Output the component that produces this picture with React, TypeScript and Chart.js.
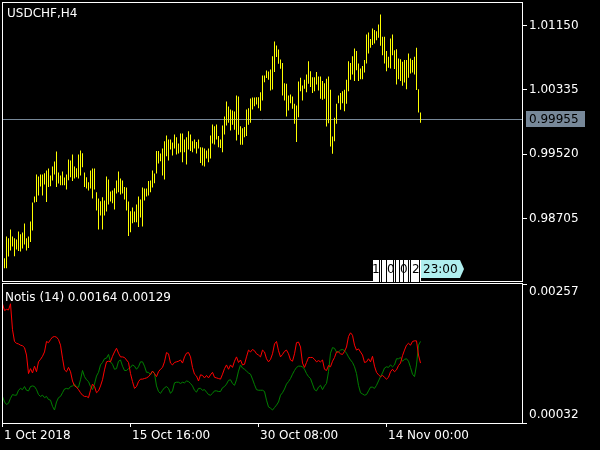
import React, { useEffect, useRef } from 'react';
import { Chart, registerables } from 'chart.js';

Chart.register(...registerables);

const FONT_FAMILY = '"DejaVu Sans", "Liberation Sans", sans-serif';

// ---------- data ----------
const symbolTitle = 'USDCHF,H4';
const indicatorName = 'Notis (14)';
const timerLabel = '23:00';
const timerDigits = ['1', '0', '0', '2'];

// H4 bars, index 0 = 1 Oct 2018 00:00
const barHigh = [
  0.98190, 0.98202, 0.98477, 0.98455, 0.98566, 0.98477, 0.98455, 0.98439, 0.98540, 0.98506,
  0.98528, 0.98642, 0.98455, 0.98477, 0.98667, 0.98908, 0.98984, 0.99262, 0.99237, 0.99262,
  0.99262, 0.99279, 0.99313, 0.99338, 0.99250, 0.99364, 0.99427, 0.99554, 0.99288, 0.99250,
  0.99300, 0.99224, 0.99262, 0.99453, 0.99440, 0.99516, 0.99364, 0.99342, 0.99516, 0.99567,
  0.99532, 0.99288, 0.99228, 0.99165, 0.99313, 0.99338, 0.99338, 0.99038, 0.98958, 0.98924,
  0.98975, 0.98933, 0.99237, 0.99199, 0.99047, 0.99060, 0.99089, 0.99186, 0.99300, 0.99212,
  0.99186, 0.99102, 0.99098, 0.98920, 0.98797, 0.98844, 0.98794, 0.98882, 0.98984, 0.98946,
  0.99098, 0.99085, 0.99085, 0.99178, 0.99186, 0.99313, 0.99275, 0.99558, 0.99558, 0.99529,
  0.99592, 0.99684, 0.99757, 0.99706, 0.99706, 0.99668, 0.99769, 0.99735, 0.99655, 0.99782,
  0.99782, 0.99706, 0.99735, 0.99811, 0.99769, 0.99684, 0.99706, 0.99672, 0.99706, 0.99608,
  0.99605, 0.99592, 0.99567, 0.99592, 0.99757, 0.99896, 0.99874, 0.99896, 0.99748, 0.99706,
  0.99883, 0.99997, 1.00187, 1.00124, 1.00086, 1.00073, 1.00061, 1.00263, 1.00251, 0.99874,
  0.99849, 0.99862, 1.00086, 1.00102, 1.00225, 1.00238, 1.00238, 1.00242, 1.00242, 1.00305,
  1.00517, 1.00517, 1.00580, 1.00567, 1.00593, 1.00761, 1.00948, 1.00897, 1.00846, 1.00720,
  1.00673, 1.00419, 1.00412, 1.00263, 1.00276, 1.00251, 1.00158, 1.00137, 1.00441, 1.00488,
  1.00390, 1.00462, 1.00529, 1.00698, 1.00571, 1.00495, 1.00495, 1.00559, 1.00504, 1.00504,
  1.00445, 1.00419, 1.00475, 1.00504, 1.00336, 0.99744, 0.99981, 1.00158, 1.00263, 1.00293,
  1.00318, 1.00336, 1.00462, 1.00698, 1.00673, 1.00761, 1.00859, 1.00825, 1.00669, 1.00605,
  1.00635, 1.00711, 1.01036, 1.01062, 1.00977, 1.01112, 1.01091, 1.01078, 1.01163, 1.01290,
  1.01007, 1.01007, 1.00825, 1.00754, 1.00986, 1.01036, 1.00837, 1.00850, 1.00732, 1.00723,
  1.00690, 1.00711, 1.00711, 1.00796, 1.00732, 1.00711, 1.00754, 1.00868, 1.00343, 1.00048,
];
const barLow = [
  0.98080, 0.98075, 0.98075, 0.98223, 0.98300, 0.98350, 0.98227, 0.98312, 0.98291, 0.98287,
  0.98325, 0.98376, 0.98300, 0.98329, 0.98405, 0.98553, 0.98908, 0.98912, 0.98996, 0.99110,
  0.98996, 0.99136, 0.98912, 0.99102, 0.99114, 0.99186, 0.99262, 0.99102, 0.99148, 0.99127,
  0.99127, 0.99127, 0.99072, 0.99190, 0.99228, 0.99178, 0.99212, 0.99228, 0.99212, 0.99250,
  0.99355, 0.99102, 0.99085, 0.99060, 0.99085, 0.98958, 0.99072, 0.98806, 0.98566, 0.98743,
  0.98566, 0.98743, 0.98794, 0.98882, 0.98920, 0.98899, 0.98819, 0.99022, 0.99038, 0.99009,
  0.99022, 0.98946, 0.98806, 0.98481, 0.98531, 0.98645, 0.98658, 0.98658, 0.98595, 0.98718,
  0.98604, 0.98933, 0.98984, 0.98996, 0.99038, 0.99098, 0.99152, 0.99275, 0.99402, 0.99431,
  0.99250, 0.99199, 0.99494, 0.99440, 0.99579, 0.99503, 0.99592, 0.99516, 0.99529, 0.99545,
  0.99418, 0.99545, 0.99389, 0.99579, 0.99558, 0.99545, 0.99592, 0.99529, 0.99592, 0.99406,
  0.99376, 0.99364, 0.99465, 0.99418, 0.99465, 0.99655, 0.99643, 0.99706, 0.99608, 0.99596,
  0.99545, 0.99769, 0.99883, 0.99918, 0.99820, 0.99892, 0.99829, 0.99693, 0.99765, 0.99639,
  0.99639, 0.99735, 0.99748, 0.99892, 0.99918, 1.00086, 1.00128, 1.00149, 1.00102, 1.00070,
  1.00200, 1.00432, 1.00483, 1.00462, 1.00327, 1.00339, 1.00559, 1.00749, 1.00665, 1.00602,
  1.00263, 1.00200, 0.99997, 1.00073, 1.00166, 1.00095, 0.99905, 0.99672, 0.99988, 1.00318,
  1.00200, 1.00348, 1.00305, 1.00412, 1.00369, 1.00293, 1.00318, 1.00403, 1.00327, 1.00222,
  1.00209, 1.00222, 0.99871, 0.99912, 0.99617, 0.99525, 0.99684, 0.99905, 1.00166, 1.00082,
  1.00166, 1.00064, 1.00158, 1.00318, 1.00462, 1.00529, 1.00445, 1.00584, 1.00445, 1.00470,
  1.00470, 1.00555, 1.00669, 1.00796, 1.00868, 1.00901, 1.00922, 1.00964, 1.00994, 1.00893,
  1.00774, 1.00669, 1.00571, 1.00614, 1.00605, 1.00774, 1.00597, 1.00403, 1.00470, 1.00445,
  1.00386, 1.00428, 1.00343, 1.00488, 1.00542, 1.00555, 1.00529, 1.00331, 1.00048, 0.99918,
];
const lastPrice = 0.99955;
const priceTicks = [0.98705, 0.9952, 1.00335, 1.0115];
const priceAxisMin = 0.97906;
const priceAxisMax = 1.01441;

const notisRed = [
  0.00225, 0.00214, 0.00216, 0.00215, 0.00225, 0.00183, 0.00164, 0.00161, 0.00160, 0.00158,
  0.00157, 0.00154, 0.00142, 0.00112, 0.00120, 0.00113, 0.00124, 0.00115, 0.00131, 0.00135,
  0.00140, 0.00147, 0.00164, 0.00162, 0.00167, 0.00171, 0.00172, 0.00171, 0.00167, 0.00158,
  0.00137, 0.00118, 0.00115, 0.00122, 0.00115, 0.00100, 0.00092, 0.00090, 0.00086, 0.00081,
  0.00077, 0.00075, 0.00075, 0.00073, 0.00085, 0.00095, 0.00091, 0.00081, 0.00084, 0.00092,
  0.00102, 0.00118, 0.00131, 0.00132, 0.00131, 0.00140, 0.00147, 0.00153, 0.00145, 0.00139,
  0.00139, 0.00138, 0.00134, 0.00130, 0.00112, 0.00099, 0.00088, 0.00091, 0.00099, 0.00103,
  0.00103, 0.00104, 0.00105, 0.00107, 0.00111, 0.00116, 0.00112, 0.00107, 0.00115, 0.00119,
  0.00122, 0.00131, 0.00146, 0.00144, 0.00129, 0.00126, 0.00130, 0.00131, 0.00132, 0.00134,
  0.00129, 0.00139, 0.00145, 0.00146, 0.00139, 0.00122, 0.00111, 0.00108, 0.00100, 0.00110,
  0.00109, 0.00105, 0.00109, 0.00105, 0.00110, 0.00114, 0.00106, 0.00105, 0.00104, 0.00103,
  0.00111, 0.00120, 0.00126, 0.00119, 0.00126, 0.00122, 0.00132, 0.00139, 0.00130, 0.00134,
  0.00126, 0.00127, 0.00139, 0.00150, 0.00147, 0.00151, 0.00149, 0.00144, 0.00142, 0.00139,
  0.00150, 0.00147, 0.00136, 0.00131, 0.00135, 0.00144, 0.00160, 0.00164, 0.00149, 0.00139,
  0.00143, 0.00148, 0.00150, 0.00144, 0.00134, 0.00132, 0.00144, 0.00162, 0.00163, 0.00155,
  0.00129, 0.00122, 0.00130, 0.00138, 0.00138, 0.00138, 0.00135, 0.00131, 0.00133, 0.00131,
  0.00134, 0.00119, 0.00117, 0.00125, 0.00123, 0.00132, 0.00138, 0.00147, 0.00147, 0.00144,
  0.00143, 0.00148, 0.00155, 0.00172, 0.00178, 0.00174, 0.00158, 0.00150, 0.00152, 0.00147,
  0.00142, 0.00130, 0.00131, 0.00136, 0.00131, 0.00140, 0.00124, 0.00114, 0.00110, 0.00107,
  0.00109, 0.00106, 0.00103, 0.00106, 0.00115, 0.00119, 0.00115, 0.00118, 0.00125, 0.00129,
  0.00141, 0.00150, 0.00158, 0.00161, 0.00158, 0.00164, 0.00165, 0.00165, 0.00142, 0.00129,
];
const notisGreen = [
  0.00075, 0.00066, 0.00062, 0.00064, 0.00072, 0.00078, 0.00077, 0.00077, 0.00085, 0.00088,
  0.00086, 0.00091, 0.00085, 0.00084, 0.00091, 0.00092, 0.00091, 0.00086, 0.00078, 0.00075,
  0.00077, 0.00073, 0.00075, 0.00070, 0.00069, 0.00059, 0.00053, 0.00066, 0.00073, 0.00075,
  0.00081, 0.00087, 0.00088, 0.00087, 0.00091, 0.00092, 0.00095, 0.00090, 0.00090, 0.00102,
  0.00117, 0.00107, 0.00102, 0.00099, 0.00091, 0.00086, 0.00095, 0.00108, 0.00114, 0.00126,
  0.00130, 0.00136, 0.00137, 0.00143, 0.00131, 0.00127, 0.00119, 0.00120, 0.00132, 0.00134,
  0.00124, 0.00117, 0.00117, 0.00120, 0.00122, 0.00126, 0.00124, 0.00119, 0.00123, 0.00131,
  0.00131, 0.00124, 0.00114, 0.00114, 0.00110, 0.00116, 0.00112, 0.00092, 0.00083, 0.00080,
  0.00085, 0.00089, 0.00091, 0.00088, 0.00080, 0.00084, 0.00097, 0.00098, 0.00098, 0.00096,
  0.00098, 0.00097, 0.00100, 0.00099, 0.00096, 0.00092, 0.00085, 0.00082, 0.00088, 0.00088,
  0.00085, 0.00086, 0.00082, 0.00078, 0.00077, 0.00080, 0.00084, 0.00084, 0.00083, 0.00083,
  0.00089, 0.00091, 0.00095, 0.00101, 0.00102, 0.00096, 0.00093, 0.00102, 0.00116, 0.00126,
  0.00121, 0.00119, 0.00116, 0.00113, 0.00111, 0.00103, 0.00094, 0.00086, 0.00085, 0.00085,
  0.00085, 0.00083, 0.00069, 0.00058, 0.00056, 0.00053, 0.00057, 0.00061, 0.00066, 0.00077,
  0.00081, 0.00087, 0.00095, 0.00099, 0.00104, 0.00111, 0.00117, 0.00122, 0.00124, 0.00124,
  0.00123, 0.00119, 0.00112, 0.00107, 0.00104, 0.00095, 0.00086, 0.00084, 0.00090, 0.00093,
  0.00086, 0.00092, 0.00096, 0.00115, 0.00145, 0.00154, 0.00153, 0.00147, 0.00147, 0.00150,
  0.00151, 0.00149, 0.00145, 0.00139, 0.00134, 0.00130, 0.00123, 0.00112, 0.00093, 0.00081,
  0.00079, 0.00077, 0.00078, 0.00084, 0.00090, 0.00090, 0.00088, 0.00093, 0.00100, 0.00107,
  0.00113, 0.00121, 0.00123, 0.00122, 0.00126, 0.00123, 0.00126, 0.00136, 0.00136, 0.00138,
  0.00132, 0.00135, 0.00136, 0.00132, 0.00122, 0.00111, 0.00107, 0.00126, 0.00158, 0.00164,
];
const notisAxisMin = 0.00032;
const notisAxisMax = 0.00257;

const timeTickBars = [0, 64, 128, 192];
const timeTickLabels = ['1 Oct 2018', '15 Oct 16:00', '30 Oct 08:00', '14 Nov 00:00'];
const barAxisMax = 259.75;

// ---------- drawing helpers ----------
const font12 = `12px ${FONT_FAMILY}`;

const mainDecor = {
  id: 'mainDecor',
  beforeDatasetsDraw(chart: any) {
    const { ctx, chartArea: a, scales } = chart;
    const y = Math.floor(scales.y.getPixelForValue(lastPrice)) + 0.5;
    ctx.save();
    ctx.strokeStyle = '#778899';
    ctx.lineWidth = 1;
    ctx.beginPath();
    ctx.moveTo(a.left, y);
    ctx.lineTo(a.right, y);
    ctx.stroke();
    ctx.restore();
  },
  afterDraw(chart: any) {
    const { ctx, chartArea: a, scales } = chart;
    ctx.save();
    // frame
    ctx.strokeStyle = '#ffffff';
    ctx.lineWidth = 1;
    ctx.strokeRect(2.5, 2.5, a.right - 2, a.bottom - 2.5);
    // title
    ctx.font = font12;
    ctx.fillStyle = '#ffffff';
    ctx.textBaseline = 'alphabetic';
    ctx.textAlign = 'left';
    ctx.fillText(symbolTitle, 7, 17);
    // price label box
    const py = Math.floor(scales.y.getPixelForValue(lastPrice)) + 0.5;
    ctx.fillStyle = '#778899';
    ctx.fillRect(a.right + 4, py - 8.5, 59, 16);
    ctx.fillStyle = '#000000';
    ctx.textBaseline = 'middle';
    ctx.fillText(lastPrice.toFixed(5), a.right + 7, py);
    // bar timer label
    const lastIdx = barHigh.length - 1;
    const bx = Math.round(scales.x.getPixelForValue(lastIdx));
    const top = Math.round(a.bottom) - 22;
    ctx.fillStyle = '#ffffff';
    ctx.fillRect(bx - 48, top, 48, 22);
    ctx.save();
    ctx.beginPath();
    ctx.rect(bx - 48, top, 48, 22);
    ctx.clip();
    ctx.fillStyle = '#000000';
    const digitX = [-49, -34, -21, -9];
    timerDigits.forEach((d, i) => ctx.fillText(d, bx + digitX[i], top + 10));
    ctx.strokeStyle = '#000000';
    [-41.5, -39.5, -34.5, -27.5, -25.5, -21.5, -17.5, -12.5, -10.5, -1.5].forEach((dx) => {
      ctx.beginPath();
      ctx.moveTo(bx + dx, top);
      ctx.lineTo(bx + dx, top + 22);
      ctx.stroke();
    });
    ctx.restore();
    ctx.fillStyle = '#afeeee';
    ctx.beginPath();
    ctx.moveTo(bx, top);
    ctx.lineTo(bx + 39, top);
    ctx.lineTo(bx + 43, top + 9);
    ctx.lineTo(bx + 39, top + 18);
    ctx.lineTo(bx, top + 18);
    ctx.closePath();
    ctx.fill();
    ctx.fillStyle = '#000000';
    ctx.textBaseline = 'middle';
    ctx.fillText(timerLabel, bx + 2, top + 9.5);
    ctx.restore();
  },
};

const subDecor = {
  id: 'subDecor',
  afterDraw(chart: any) {
    const { ctx, chartArea: a } = chart;
    ctx.save();
    ctx.strokeStyle = '#ffffff';
    ctx.lineWidth = 1;
    ctx.strokeRect(2.5, 0.5, a.right - 2, a.bottom);
    ctx.font = font12;
    ctx.fillStyle = '#ffffff';
    ctx.textAlign = 'left';
    ctx.textBaseline = 'alphabetic';
    const last = notisRed.length - 1;
    ctx.fillText(
      `${indicatorName} ${notisGreen[last].toFixed(5)} ${notisRed[last].toFixed(5)}`,
      5,
      17.5
    );
    ctx.textBaseline = 'middle';
    ctx.fillText(notisAxisMax.toFixed(5), a.right + 7, a.top + 8);
    ctx.fillText(notisAxisMin.toFixed(5), a.right + 7, a.bottom - 8);
    ctx.restore();
  },
};

export default function App() {
  const mainRef = useRef<HTMLCanvasElement | null>(null);
  const subRef = useRef<HTMLCanvasElement | null>(null);

  useEffect(() => {
    if (!mainRef.current || !subRef.current) return;
    const tickFont = { family: FONT_FAMILY, size: 12 };

    const mainChart = new Chart(mainRef.current, {
      type: 'bar',
      data: {
        datasets: [
          {
            data: barHigh.map((h, i) => ({ x: i, y: [barLow[i], h] })) as any,
            backgroundColor: '#ffff00',
            borderWidth: 0,
            barThickness: 1,
            inflateAmount: 0,
            grouped: false,
          } as any,
        ],
      },
      options: {
        responsive: false,
        animation: false,
        devicePixelRatio: 1,
        layout: { padding: { left: 2.5, top: 2.5, right: 0, bottom: 1.5 } },
        plugins: { legend: { display: false }, tooltip: { enabled: false } },
        scales: {
          x: {
            type: 'linear',
            min: 0,
            max: barAxisMax,
            offset: false,
            display: false,
            grid: { offset: false },
          },
          y: {
            type: 'linear',
            position: 'right',
            min: priceAxisMin,
            max: priceAxisMax,
            beginAtZero: false,
            afterBuildTicks: (s: any) => {
              s.ticks = priceTicks.map((v) => ({ value: v }));
            },
            afterFit: (s: any) => {
              s.width = 78;
              s.paddingTop = 0;
              s.paddingBottom = 0;
            },
            grid: {
              drawOnChartArea: false,
              drawTicks: true,
              tickLength: 5,
              color: '#ffffff',
              tickColor: '#ffffff',
            },
            border: { display: false },
            ticks: {
              color: '#ffffff',
              padding: 2,
              autoSkip: false,
              font: tickFont,
              callback: (v: any) => Number(v).toFixed(5),
            },
          },
        },
      } as any,
      plugins: [mainDecor],
    });

    const subChart = new Chart(subRef.current, {
      type: 'line',
      data: {
        datasets: [
          {
            data: notisRed.map((v, i) => ({ x: i, y: v })),
            borderColor: '#ff0000',
            borderWidth: 1,
            pointRadius: 0,
            tension: 0,
            fill: false,
          },
          {
            data: notisGreen.map((v, i) => ({ x: i, y: v })),
            borderColor: '#008000',
            borderWidth: 1,
            pointRadius: 0,
            tension: 0,
            fill: false,
          },
        ],
      },
      options: {
        responsive: false,
        animation: false,
        devicePixelRatio: 1,
        layout: { padding: { left: 2.5, top: 1, right: 0, bottom: 0 } },
        plugins: { legend: { display: false }, tooltip: { enabled: false } },
        scales: {
          x: {
            type: 'linear',
            position: 'bottom',
            min: 0,
            max: barAxisMax,
            offset: false,
            afterBuildTicks: (s: any) => {
              s.ticks = timeTickBars.map((v) => ({ value: v }));
            },
            afterFit: (s: any) => {
              s.height = 27;
              s.paddingLeft = 0;
              s.paddingRight = 0;
            },
            grid: {
              drawOnChartArea: false,
              drawTicks: true,
              tickLength: 4,
              color: '#ffffff',
              tickColor: '#ffffff',
            },
            border: { display: false },
            ticks: {
              color: '#ffffff',
              align: 'start',
              labelOffset: 1.5,
              padding: 2,
              maxRotation: 0,
              minRotation: 0,
              autoSkip: false,
              font: tickFont,
              callback: (v: any) => {
                const k = timeTickBars.indexOf(Number(v));
                return k >= 0 ? timeTickLabels[k] : '';
              },
            },
          },
          y: {
            type: 'linear',
            position: 'right',
            min: notisAxisMin,
            max: notisAxisMax,
            afterBuildTicks: (s: any) => {
              s.ticks = [{ value: notisAxisMin }, { value: notisAxisMax }];
            },
            afterFit: (s: any) => {
              s.width = 78;
              s.paddingTop = 0;
              s.paddingBottom = 0;
            },
            grid: {
              drawOnChartArea: false,
              drawTicks: true,
              tickLength: 5,
              color: '#ffffff',
              tickColor: '#ffffff',
            },
            border: { display: false },
            ticks: { display: false },
          },
        },
      } as any,
      plugins: [subDecor],
    });

    return () => {
      mainChart.destroy();
      subChart.destroy();
    };
  }, []);

  return (
    <div
      style={{
        position: 'fixed',
        left: 0,
        top: 0,
        width: 600,
        height: 450,
        background: '#000000',
        overflow: 'hidden',
      }}
    >
      <canvas
        ref={mainRef}
        width={600}
        height={283}
        style={{ position: 'absolute', left: 0, top: 0, width: 600, height: 283 }}
      />
      <canvas
        ref={subRef}
        width={600}
        height={167}
        style={{ position: 'absolute', left: 0, top: 283, width: 600, height: 167 }}
      />
    </div>
  );
}
